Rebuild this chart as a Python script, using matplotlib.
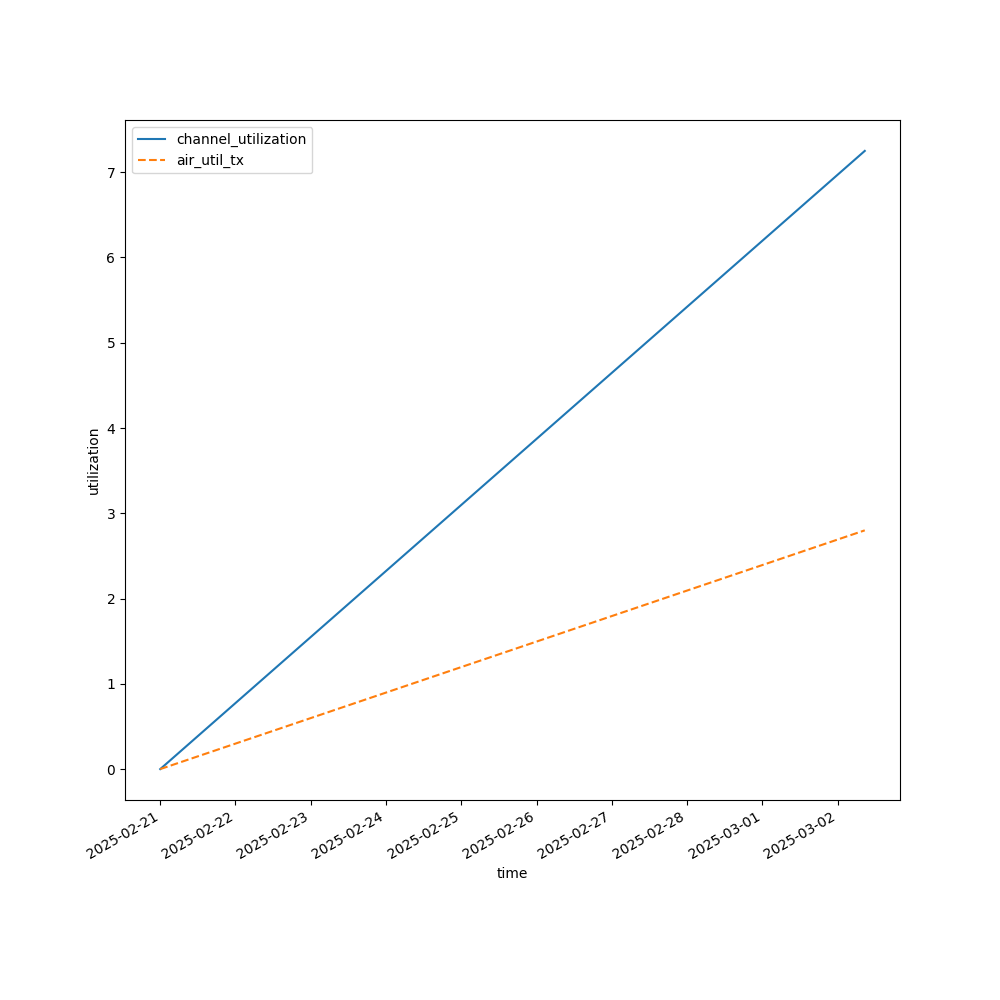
import matplotlib
matplotlib.use("Agg")
import matplotlib.pyplot as plt
import pandas as pd

# values
times = pd.to_datetime(["2025-02-21 00:00", "2025-03-02 08:40"])
channel_utilization = [0.0, 7.25]
air_util_tx = [0.0, 2.80]

fig, ax = plt.subplots(figsize=(10, 10), dpi=100)
ax.plot(times, channel_utilization, label="channel_utilization")
ax.plot(times, air_util_tx, linestyle="--", label="air_util_tx")
ax.set_xlabel("time")
ax.set_ylabel("utilization")
ax.legend(loc="upper left")
fig.autofmt_xdate()
fig.savefig("out.png")
